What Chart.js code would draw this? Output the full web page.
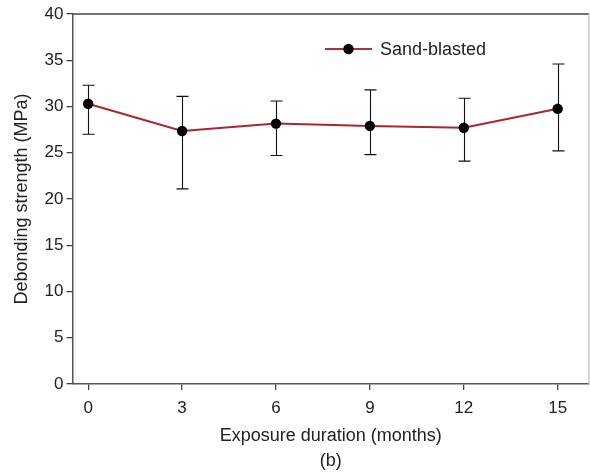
<!DOCTYPE html>
<html>
<head>
<meta charset="utf-8">
<script src="https://cdn.jsdelivr.net/npm/chart.js@4"></script>
<style>
html,body{margin:0;padding:0;background:#fff;}
#wrap{width:590px;height:474px;position:relative;}
</style>
</head>
<body>
<div id="wrap"><canvas id="c" width="590" height="474"></canvas></div>
<script>
const months = [0, 3, 6, 9, 12, 15];
const strength = [30.3, 27.35, 28.15, 27.9, 27.7, 29.75];
const errUpper = [32.3, 31.1, 30.6, 31.8, 30.9, 34.6];
const errLower = [27.0, 21.1, 24.7, 24.8, 24.1, 25.2];
const xTicks = [0, 3, 6, 9, 12, 15];
const yTicks = [0, 5, 10, 15, 20, 25, 30, 35, 40];
const seriesLabel = 'Sand-blasted';

const FONT = "'Liberation Sans', Arial, sans-serif";

const errorBars = {
  id: 'errorBars',
  beforeDatasetsDraw(chart) {
    const ctx = chart.ctx, xs = chart.scales.x, ys = chart.scales.y;
    ctx.save();
    ctx.strokeStyle = '#111';
    ctx.lineWidth = 1.1;
    months.forEach((m, i) => {
      const px = Math.round(xs.getPixelForValue(m)) + 0.5;
      const t = ys.getPixelForValue(errUpper[i]);
      const b = ys.getPixelForValue(errLower[i]);
      ctx.beginPath();
      ctx.moveTo(px, t); ctx.lineTo(px, b);
      ctx.moveTo(px - 6, t); ctx.lineTo(px + 6, t);
      ctx.moveTo(px - 6, b); ctx.lineTo(px + 6, b);
      ctx.stroke();
    });
    ctx.restore();
  }
};

const frame = {
  id: 'frame',
  afterDraw(chart) {
    const ctx = chart.ctx, a = chart.chartArea;
    ctx.save();
    ctx.strokeStyle = '#444';
    ctx.lineWidth = 1.5;
    ctx.beginPath();
    ctx.moveTo(a.left, a.top); ctx.lineTo(a.right, a.top);
    ctx.stroke();
    ctx.strokeStyle = '#c8c8c8';
    ctx.lineWidth = 1.5;
    ctx.beginPath();
    ctx.moveTo(a.right, a.top); ctx.lineTo(a.right, a.bottom);
    ctx.stroke();
    // legend
    const lx = 325, ly = 49;
    ctx.strokeStyle = '#b03030';
    ctx.lineWidth = 2;
    ctx.beginPath();
    ctx.moveTo(lx, ly); ctx.lineTo(lx + 47, ly);
    ctx.stroke();
    ctx.fillStyle = '#000';
    ctx.beginPath();
    ctx.arc(lx + 23.5, ly, 5.2, 0, Math.PI * 2);
    ctx.fill();
    ctx.fillStyle = '#222';
    ctx.font = '18px ' + FONT;
    ctx.textBaseline = 'middle';
    ctx.textAlign = 'left';
    ctx.fillText(seriesLabel, lx + 55, ly + 1);
    ctx.restore();
  }
};

new Chart(document.getElementById('c'), {
  type: 'line',
  data: {
    datasets: [{
      label: seriesLabel,
      data: months.map((m, i) => ({x: m, y: strength[i]})),
      borderColor: '#a8282a',
      borderWidth: 2,
      pointBackgroundColor: '#000',
      pointBorderColor: '#000',
      pointRadius: 5.2,
      pointBorderWidth: 0,
      tension: 0
    }]
  },
  options: {
    responsive: false,
    animation: false,
    devicePixelRatio: 1,
    layout: {autoPadding: false, padding: {top: 14, right: 1, left: 0, bottom: 0}},
    plugins: {legend: {display: false}, tooltip: {enabled: false}, title: {display: false}},
    scales: {
      x: {
        type: 'linear',
        min: -0.5, max: 16,
        afterBuildTicks(s) { s.ticks = xTicks.map(v => ({value: v})); },
        afterFit(s) { s.height = 90; s.paddingLeft = 0; s.paddingRight = 0; },
        grid: {drawOnChartArea: false, drawTicks: true, tickLength: 6, color: '#444', lineWidth: 1.3},
        border: {display: true, color: '#555', width: 1.5},
        ticks: {color: '#222', font: {family: FONT, size: 17}, padding: 8, maxRotation: 0},
        title: {display: true, text: ['Exposure duration (months)', '(b)'], color: '#222',
                font: {family: FONT, size: 18, lineHeight: 1.39}, padding: {top: 0, bottom: 0}}
      },
      y: {
        type: 'linear',
        min: 0, max: 40,
        afterBuildTicks(s) { s.ticks = yTicks.map(v => ({value: v})); },
        afterFit(s) { s.width = 72.5; s.paddingTop = 0; s.paddingBottom = 0; },
        grid: {drawOnChartArea: false, drawTicks: true, tickLength: 6, color: '#444', lineWidth: 1.3},
        border: {display: true, color: '#555', width: 1.5},
        ticks: {color: '#222', font: {family: FONT, size: 17}, padding: 3},
        title: {display: true, text: 'Debonding strength (MPa)', color: '#222',
                font: {family: FONT, size: 18}, padding: {top: 11, bottom: 0}}
      }
    }
  },
  plugins: [errorBars, frame]
});
</script>
</body>
</html>
